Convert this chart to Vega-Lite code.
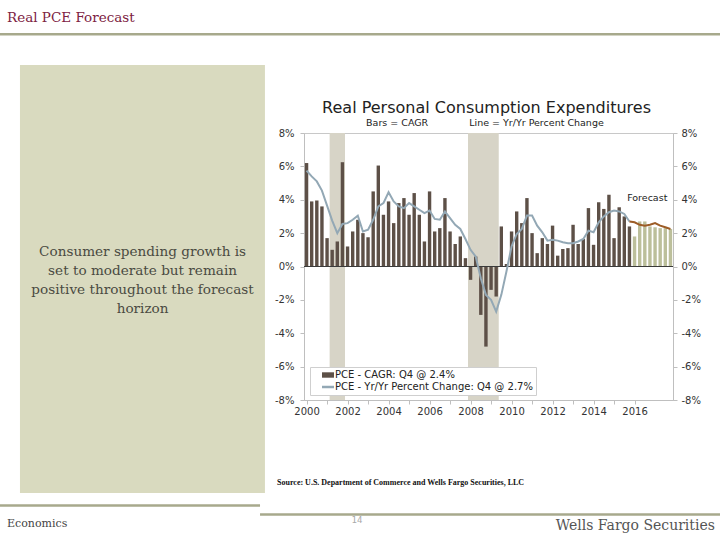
{
  "$schema": "https://vega.github.io/schema/vega-lite/v6.json",
  "width": 369,
  "height": 267,
  "autosize": {"type": "none"},
  "padding": {"left": 304, "top": 133, "right": 47, "bottom": 140},
  "background": "white",
  "view": {"stroke": "#c8c8c8", "strokeWidth": 1},
  "config": {
    "font": "DejaVu Sans",
    "axis": {
      "labelFont": "DejaVu Sans",
      "labelFontSize": 10,
      "labelColor": "#333333",
      "domainColor": "#bfbfbf",
      "tickColor": "#bfbfbf",
      "tickSize": 4,
      "grid": false,
      "title": null
    }
  },
  "resolve": {"axis": {"x": "independent", "y": "independent"}},
  "datasets": {
    "bars": [
      {"t": 2000.0, "v": 6.2, "s": "CAGR"}, {"t": 2000.25, "v": 3.9, "s": "CAGR"}, {"t": 2000.5, "v": 3.95, "s": "CAGR"}, {"t": 2000.75, "v": 3.6, "s": "CAGR"},
      {"t": 2001.0, "v": 1.7, "s": "CAGR"}, {"t": 2001.25, "v": 1.0, "s": "CAGR"}, {"t": 2001.5, "v": 1.5, "s": "CAGR"}, {"t": 2001.75, "v": 6.25, "s": "CAGR"},
      {"t": 2002.0, "v": 1.2, "s": "CAGR"}, {"t": 2002.25, "v": 2.1, "s": "CAGR"}, {"t": 2002.5, "v": 2.8, "s": "CAGR"}, {"t": 2002.75, "v": 2.0, "s": "CAGR"},
      {"t": 2003.0, "v": 1.75, "s": "CAGR"}, {"t": 2003.25, "v": 4.5, "s": "CAGR"}, {"t": 2003.5, "v": 6.05, "s": "CAGR"}, {"t": 2003.75, "v": 3.1, "s": "CAGR"},
      {"t": 2004.0, "v": 3.9, "s": "CAGR"}, {"t": 2004.25, "v": 2.6, "s": "CAGR"}, {"t": 2004.5, "v": 3.8, "s": "CAGR"}, {"t": 2004.75, "v": 4.1, "s": "CAGR"},
      {"t": 2005.0, "v": 3.1, "s": "CAGR"}, {"t": 2005.25, "v": 4.4, "s": "CAGR"}, {"t": 2005.5, "v": 3.1, "s": "CAGR"}, {"t": 2005.75, "v": 1.5, "s": "CAGR"},
      {"t": 2006.0, "v": 4.5, "s": "CAGR"}, {"t": 2006.25, "v": 2.1, "s": "CAGR"}, {"t": 2006.5, "v": 2.3, "s": "CAGR"}, {"t": 2006.75, "v": 4.1, "s": "CAGR"},
      {"t": 2007.0, "v": 2.1, "s": "CAGR"}, {"t": 2007.25, "v": 1.35, "s": "CAGR"}, {"t": 2007.5, "v": 1.8, "s": "CAGR"}, {"t": 2007.75, "v": 0.5, "s": "CAGR"},
      {"t": 2008.0, "v": -0.8, "s": "CAGR"}, {"t": 2008.25, "v": 0.6, "s": "CAGR"}, {"t": 2008.5, "v": -2.9, "s": "CAGR"}, {"t": 2008.75, "v": -4.8, "s": "CAGR"},
      {"t": 2009.0, "v": -1.4, "s": "CAGR"}, {"t": 2009.25, "v": -1.8, "s": "CAGR"}, {"t": 2009.5, "v": 2.4, "s": "CAGR"}, {"t": 2009.75, "v": 0.15, "s": "CAGR"},
      {"t": 2010.0, "v": 2.1, "s": "CAGR"}, {"t": 2010.25, "v": 3.3, "s": "CAGR"}, {"t": 2010.5, "v": 2.6, "s": "CAGR"}, {"t": 2010.75, "v": 4.1, "s": "CAGR"},
      {"t": 2011.0, "v": 2.0, "s": "CAGR"}, {"t": 2011.25, "v": 0.8, "s": "CAGR"}, {"t": 2011.5, "v": 1.7, "s": "CAGR"}, {"t": 2011.75, "v": 1.35, "s": "CAGR"},
      {"t": 2012.0, "v": 2.45, "s": "CAGR"}, {"t": 2012.25, "v": 0.65, "s": "CAGR"}, {"t": 2012.5, "v": 1.05, "s": "CAGR"}, {"t": 2012.75, "v": 1.1, "s": "CAGR"},
      {"t": 2013.0, "v": 2.5, "s": "CAGR"}, {"t": 2013.25, "v": 1.35, "s": "CAGR"}, {"t": 2013.5, "v": 1.65, "s": "CAGR"}, {"t": 2013.75, "v": 3.5, "s": "CAGR"},
      {"t": 2014.0, "v": 1.3, "s": "CAGR"}, {"t": 2014.25, "v": 3.85, "s": "CAGR"}, {"t": 2014.5, "v": 3.45, "s": "CAGR"}, {"t": 2014.75, "v": 4.3, "s": "CAGR"},
      {"t": 2015.0, "v": 1.7, "s": "CAGR"}, {"t": 2015.25, "v": 3.55, "s": "CAGR"}, {"t": 2015.5, "v": 3.0, "s": "CAGR"}, {"t": 2015.75, "v": 2.4, "s": "CAGR"},
      {"t": 2016.0, "v": 1.8, "s": "CAGR-F"}, {"t": 2016.25, "v": 2.7, "s": "CAGR-F"}, {"t": 2016.5, "v": 2.7, "s": "CAGR-F"}, {"t": 2016.75, "v": 2.4, "s": "CAGR-F"},
      {"t": 2017.0, "v": 2.35, "s": "CAGR-F"}, {"t": 2017.25, "v": 2.3, "s": "CAGR-F"}, {"t": 2017.5, "v": 2.3, "s": "CAGR-F"}, {"t": 2017.75, "v": 2.25, "s": "CAGR-F"}
    ],
    "lines": [
      {"t": 2000.0, "v": 5.75, "s": "YoY"}, {"t": 2000.25, "v": 5.4, "s": "YoY"}, {"t": 2000.5, "v": 5.1, "s": "YoY"}, {"t": 2000.75, "v": 4.55, "s": "YoY"},
      {"t": 2001.0, "v": 3.65, "s": "YoY"}, {"t": 2001.25, "v": 2.75, "s": "YoY"}, {"t": 2001.5, "v": 2.0, "s": "YoY"}, {"t": 2001.75, "v": 2.55, "s": "YoY"},
      {"t": 2002.0, "v": 2.6, "s": "YoY"}, {"t": 2002.25, "v": 2.8, "s": "YoY"}, {"t": 2002.5, "v": 3.05, "s": "YoY"}, {"t": 2002.75, "v": 2.1, "s": "YoY"},
      {"t": 2003.0, "v": 2.2, "s": "YoY"}, {"t": 2003.25, "v": 2.8, "s": "YoY"}, {"t": 2003.5, "v": 3.6, "s": "YoY"}, {"t": 2003.75, "v": 3.8, "s": "YoY"},
      {"t": 2004.0, "v": 4.45, "s": "YoY"}, {"t": 2004.25, "v": 3.9, "s": "YoY"}, {"t": 2004.5, "v": 3.6, "s": "YoY"}, {"t": 2004.75, "v": 3.5, "s": "YoY"},
      {"t": 2005.0, "v": 3.8, "s": "YoY"}, {"t": 2005.25, "v": 3.6, "s": "YoY"}, {"t": 2005.5, "v": 3.4, "s": "YoY"}, {"t": 2005.75, "v": 3.2, "s": "YoY"},
      {"t": 2006.0, "v": 3.35, "s": "YoY"}, {"t": 2006.25, "v": 2.85, "s": "YoY"}, {"t": 2006.5, "v": 2.8, "s": "YoY"}, {"t": 2006.75, "v": 3.3, "s": "YoY"},
      {"t": 2007.0, "v": 2.9, "s": "YoY"}, {"t": 2007.25, "v": 2.5, "s": "YoY"}, {"t": 2007.5, "v": 2.25, "s": "YoY"}, {"t": 2007.75, "v": 1.65, "s": "YoY"},
      {"t": 2008.0, "v": 1.0, "s": "YoY"}, {"t": 2008.25, "v": 0.6, "s": "YoY"}, {"t": 2008.5, "v": -0.7, "s": "YoY"}, {"t": 2008.75, "v": -1.7, "s": "YoY"},
      {"t": 2009.0, "v": -2.0, "s": "YoY"}, {"t": 2009.25, "v": -2.7, "s": "YoY"}, {"t": 2009.5, "v": -1.7, "s": "YoY"}, {"t": 2009.75, "v": -0.3, "s": "YoY"},
      {"t": 2010.0, "v": 1.2, "s": "YoY"}, {"t": 2010.25, "v": 1.95, "s": "YoY"}, {"t": 2010.5, "v": 2.25, "s": "YoY"}, {"t": 2010.75, "v": 3.05, "s": "YoY"},
      {"t": 2011.0, "v": 3.05, "s": "YoY"}, {"t": 2011.25, "v": 2.45, "s": "YoY"}, {"t": 2011.5, "v": 2.05, "s": "YoY"}, {"t": 2011.75, "v": 1.55, "s": "YoY"},
      {"t": 2012.0, "v": 1.6, "s": "YoY"}, {"t": 2012.25, "v": 1.55, "s": "YoY"}, {"t": 2012.5, "v": 1.45, "s": "YoY"}, {"t": 2012.75, "v": 1.4, "s": "YoY"},
      {"t": 2013.0, "v": 1.4, "s": "YoY"}, {"t": 2013.25, "v": 1.5, "s": "YoY"}, {"t": 2013.5, "v": 1.65, "s": "YoY"}, {"t": 2013.75, "v": 2.15, "s": "YoY"},
      {"t": 2014.0, "v": 2.05, "s": "YoY"}, {"t": 2014.25, "v": 2.65, "s": "YoY"}, {"t": 2014.5, "v": 3.0, "s": "YoY"}, {"t": 2014.75, "v": 3.25, "s": "YoY"},
      {"t": 2015.0, "v": 3.35, "s": "YoY"}, {"t": 2015.25, "v": 3.3, "s": "YoY"}, {"t": 2015.5, "v": 3.15, "s": "YoY"}, {"t": 2015.75, "v": 2.7, "s": "YoY"},
      {"t": 2015.75, "v": 2.7, "s": "YoY-F"},
      {"t": 2016.0, "v": 2.65, "s": "YoY-F"}, {"t": 2016.25, "v": 2.5, "s": "YoY-F"}, {"t": 2016.5, "v": 2.45, "s": "YoY-F"}, {"t": 2016.75, "v": 2.5, "s": "YoY-F"},
      {"t": 2017.0, "v": 2.6, "s": "YoY-F"}, {"t": 2017.25, "v": 2.45, "s": "YoY-F"}, {"t": 2017.5, "v": 2.35, "s": "YoY-F"}, {"t": 2017.75, "v": 2.25, "s": "YoY-F"}
    ],
    "recessions": [
      {"start": 2001.125, "end": 2001.875},
      {"start": 2007.875, "end": 2009.375}
    ]
  },
  "layer": [
    {
      "data": {"values": [{"panel": "note"}]},
      "mark": {"type": "rect", "color": "#d9dabf"},
      "encoding": {
        "x": {"datum": 1986.02, "type": "quantitative", "axis": null},
        "x2": {"datum": 1997.97},
        "y": {"datum": 12.075, "type": "quantitative", "axis": null},
        "y2": {"datum": -13.57}
      }
    },
    {
      "data": {"values": [{"rule": "top"}]},
      "mark": {"type": "rule", "color": "#a7a98c", "strokeWidth": 2.5},
      "encoding": {
        "x": {"datum": 1985.0, "type": "quantitative", "axis": null},
        "x2": {"datum": 2020.2},
        "y": {"datum": 13.92, "type": "quantitative", "axis": null}
      }
    },
    {
      "data": {"values": [{"rule": "bottom-left"}]},
      "mark": {"type": "rule", "color": "#a7a98c", "strokeWidth": 2.5},
      "encoding": {
        "x": {"datum": 1985.0, "type": "quantitative", "axis": null},
        "x2": {"datum": 1997.73},
        "y": {"datum": -14.32, "type": "quantitative", "axis": null}
      }
    },
    {
      "data": {"values": [{"rule": "bottom-right"}]},
      "mark": {"type": "rule", "color": "#a7a98c", "strokeWidth": 2.5},
      "encoding": {
        "x": {"datum": 1997.73, "type": "quantitative", "axis": null},
        "x2": {"datum": 2020.2},
        "y": {"datum": -14.86, "type": "quantitative", "axis": null}
      }
    },
    {
      "data": {"values": [{"label": "Real PCE Forecast"}]},
      "mark": {"type": "text", "align": "left", "baseline": "alphabetic", "font": "DejaVu Serif", "fontSize": 13.5, "color": "#7d2242"},
      "encoding": {
        "x": {"datum": 1985.39, "type": "quantitative", "axis": null},
        "y": {"datum": 14.65, "type": "quantitative", "axis": null},
        "text": {"field": "label"}
      }
    },
    {
      "data": {"values": [{"lines": ["Consumer spending growth is", "set to moderate but remain", "positive throughout the forecast", "horizon"]}]},
      "mark": {"type": "text", "align": "center", "baseline": "alphabetic", "font": "DejaVu Serif", "fontSize": 13.6, "lineHeight": 19, "color": "#4a4a42"},
      "encoding": {
        "x": {"datum": 1992.0, "type": "quantitative", "axis": null},
        "y": {"datum": 0.63, "type": "quantitative", "axis": null},
        "text": {"field": "lines"}
      }
    },
    {
      "data": {"values": [{"label": "Source: U.S. Department of Commerce and Wells Fargo Securities, LLC"}]},
      "mark": {"type": "text", "align": "left", "baseline": "alphabetic", "font": "Liberation Serif", "fontWeight": "bold", "fontSize": 8, "color": "#111111"},
      "encoding": {
        "x": {"datum": 1998.56, "type": "quantitative", "axis": null},
        "y": {"datum": -13.09, "type": "quantitative", "axis": null},
        "text": {"field": "label"}
      }
    },
    {
      "data": {"values": [{"label": "Economics"}]},
      "mark": {"type": "text", "align": "left", "baseline": "alphabetic", "font": "DejaVu Serif", "fontSize": 11, "color": "#444444"},
      "encoding": {
        "x": {"datum": 1985.39, "type": "quantitative", "axis": null},
        "y": {"datum": -15.61, "type": "quantitative", "axis": null},
        "text": {"field": "label"}
      }
    },
    {
      "data": {"values": [{"label": "14"}]},
      "mark": {"type": "text", "align": "center", "baseline": "alphabetic", "font": "DejaVu Sans Mono", "fontSize": 9, "color": "#aaaaaa"},
      "encoding": {
        "x": {"datum": 2002.46, "type": "quantitative", "axis": null},
        "y": {"datum": -15.37, "type": "quantitative", "axis": null},
        "text": {"field": "label"}
      }
    },
    {
      "data": {"values": [{"label": "Wells Fargo Securities"}]},
      "mark": {"type": "text", "align": "right", "baseline": "alphabetic", "font": "DejaVu Serif", "fontSize": 14, "color": "#555555"},
      "encoding": {
        "x": {"datum": 2019.92, "type": "quantitative", "axis": null},
        "y": {"datum": -15.79, "type": "quantitative", "axis": null},
        "text": {"field": "label"}
      }
    },
    {
      "data": {"values": [{"label": "Real Personal Consumption Expenditures"}]},
      "mark": {"type": "text", "align": "center", "baseline": "alphabetic", "font": "DejaVu Sans", "fontSize": 16, "color": "#222222"},
      "encoding": {
        "x": {"datum": 2008.78, "type": "quantitative", "axis": null},
        "y": {"datum": 9.2, "type": "quantitative", "axis": null},
        "text": {"field": "label"}
      }
    },
    {
      "data": {"values": [{"label": "Bars = CAGR\u2003\u2003\u2003\u2003 Line = Yr/Yr Percent Change"}]},
      "mark": {"type": "text", "align": "center", "baseline": "alphabetic", "font": "DejaVu Sans", "fontSize": 9.5, "color": "#222222"},
      "encoding": {
        "x": {"datum": 2008.7, "type": "quantitative", "axis": null},
        "y": {"datum": 8.42, "type": "quantitative", "axis": null},
        "text": {"field": "label"}
      }
    },
    {
      "data": {"name": "recessions"},
      "mark": {"type": "rect", "color": "#d7d4c7"},
      "encoding": {
        "x": {"field": "start", "type": "quantitative", "axis": null},
        "x2": {"field": "end"}
      }
    },
    {
      "data": {"name": "bars"},
      "mark": {"type": "bar", "orient": "vertical", "width": 3.4},
      "encoding": {
        "x": {
          "field": "t", "type": "quantitative",
          "scale": {"domain": [1999.875, 2017.875], "nice": false, "zero": false, "padding": 0},
          "axis": {
            "orient": "bottom",
            "values": [2000, 2001, 2002, 2003, 2004, 2005, 2006, 2007, 2008, 2009, 2010, 2011, 2012, 2013, 2014, 2015, 2016],
            "labelExpr": "datum.value % 2 == 0 ? '' + datum.value : ''",
            "labelPadding": 2,
            "labelFlush": false,
            "labelOverlap": false
          }
        },
        "y": {
          "field": "v", "type": "quantitative",
          "scale": {"domain": [-8, 8], "nice": false, "zero": false, "padding": 0},
          "axis": {
            "orient": "left",
            "values": [-8, -6, -4, -2, 0, 2, 4, 6, 8],
            "labelExpr": "datum.value + '%'",
            "labelPadding": 6
          }
        },
        "color": {
          "field": "s", "type": "nominal",
          "scale": {"domain": ["CAGR", "YoY", "CAGR-F", "YoY-F"], "range": ["#5d5047", "#93a8b5", "#bcbf9b", "#9c5c26"]},
          "legend": {
            "values": ["CAGR", "YoY"],
            "orient": "bottom-left",
            "offset": 5.5,
            "title": null,
            "labelExpr": "datum.value === 'CAGR' ? 'PCE - CAGR: Q4 @ 2.4%' : 'PCE - Yr/Yr Percent Change: Q4 @ 2.7%\u00a0\u00a0\u00a0\u00a0\u00a0\u00a0\u00a0'",
            "labelLimit": 400,
            "labelFont": "DejaVu Sans",
            "labelFontSize": 10,
            "labelColor": "#222222",
            "labelOffset": 2,
            "symbolOffset": 10,
            "symbolSize": 144,
            "rowPadding": 2,
            "padding": 3,
            "fillColor": "white",
            "strokeColor": "#cfcfcf",
            "encode": {
              "symbols": {
                "update": {
                  "shape": {"signal": "datum.value === 'CAGR' ? 'M-1,-0.45H1V0.45H-1Z' : 'stroke'"},
                  "fill": {"signal": "datum.value === 'CAGR' ? '#5d5047' : 'transparent'"},
                  "stroke": {"signal": "datum.value === 'CAGR' ? 'transparent' : '#93a8b5'"},
                  "strokeWidth": {"signal": "datum.value === 'CAGR' ? 0 : 2.5"}
                }
              }
            }
          }
        }
      }
    },
    {
      "data": {"values": [{"level": 0}]},
      "mark": {"type": "rule", "color": "#3a3a3a", "strokeWidth": 1.2},
      "encoding": {
        "y": {
          "field": "level", "type": "quantitative",
          "axis": {
            "orient": "right",
            "values": [-8, -6, -4, -2, 0, 2, 4, 6, 8],
            "labelExpr": "datum.value + '%'",
            "labelPadding": 4
          }
        }
      }
    },
    {
      "data": {"name": "lines"},
      "mark": {"type": "line", "strokeWidth": 2},
      "encoding": {
        "x": {"field": "t", "type": "quantitative", "axis": null},
        "y": {"field": "v", "type": "quantitative", "axis": null},
        "color": {"field": "s", "type": "nominal", "legend": null}
      }
    },
    {
      "data": {"values": [{"label": "Forecast"}]},
      "mark": {"type": "text", "align": "right", "baseline": "alphabetic", "fontSize": 9.5, "color": "#222222"},
      "encoding": {
        "x": {"datum": 2017.6, "type": "quantitative", "axis": null},
        "y": {"datum": 3.95, "type": "quantitative", "axis": null},
        "text": {"field": "label"}
      }
    }
  ]
}
